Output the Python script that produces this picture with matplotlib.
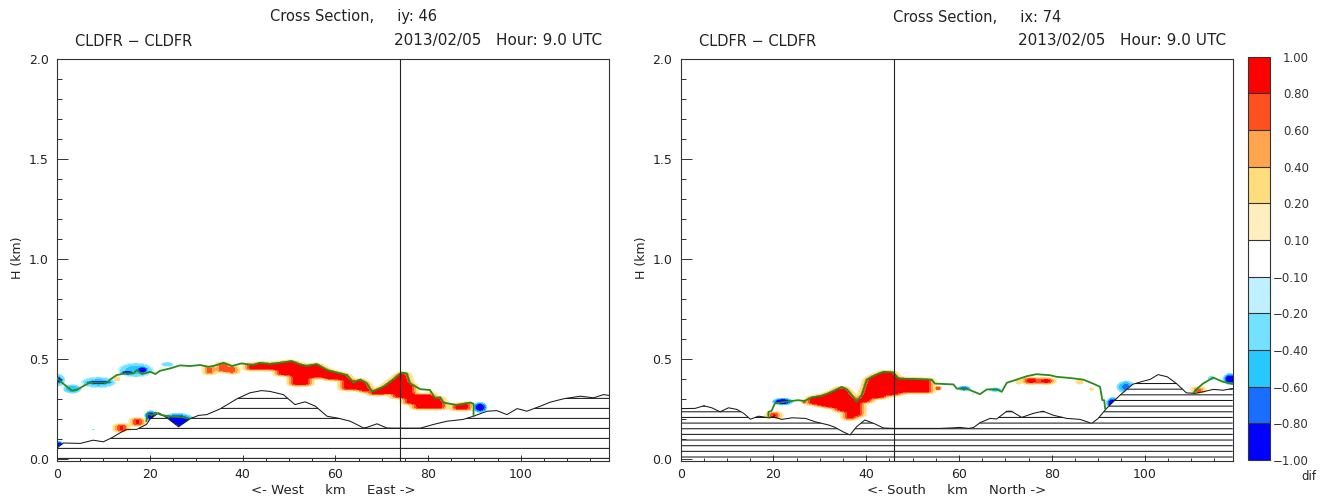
import numpy as np
import matplotlib
matplotlib.use("Agg")
import matplotlib.pyplot as plt
from matplotlib.colors import ListedColormap, BoundaryNorm
from matplotlib.cm import ScalarMappable
from matplotlib.ticker import MultipleLocator, FormatStrFormatter

plt.rcParams['font.family'] = ['DejaVu Sans']

# ---------------- colour scale of the difference field ----------------
dif_levels = [-1.0, -0.8, -0.6, -0.4, -0.2, -0.1, 0.1, 0.2, 0.4, 0.6, 0.8, 1.0]
dif_colors = ['#0000ff', '#196eff', '#28c8ff', '#73e1ff', '#bef0ff', '#ffffff',
              '#ffeec0', '#ffdc7d', '#ffa550', '#ff5020', '#ff0000']
dif_labels = ['\u22121.00', '\u22120.80', '\u22120.60', '\u22120.40', '\u22120.20', '\u22120.10',
              '0.10', '0.20', '0.40', '0.60', '0.80', '1.00']

x_ticks = [0, 20, 40, 60, 80, 100]
y_ticks = [0.0, 0.5, 1.0, 1.5, 2.0]

# ---------------- west-east section, iy = 46 ----------------
we_title = 'Cross Section,     iy: 46'
we_xlabel = '<- West     km     East ->'
we_marker = 74

we_terrain_x = [0, 1.4, 5, 7.8, 10, 11.8, 13.6, 15, 17.2, 19.3, 20, 21.9, 23.7, 26.2, 28.7,
                30.5, 32.3, 35.2, 38.8, 41.6, 44.1, 45.9, 48.8, 51.3, 53.5, 55.7, 58.2, 61,
                63.2, 66.1, 66.8, 69, 71.1, 72.5, 78.3, 81.2, 84.1, 87.6, 89.8, 92.7, 94.8,
                97, 99.2, 101.3, 104.2, 106.3, 109.2, 112.8, 115.7, 117.8, 119]
we_terrain_h = [0.055, 0.08, 0.078, 0.094, 0.086, 0.106, 0.131, 0.148, 0.148, 0.173, 0.198,
                0.231, 0.206, 0.161, 0.201, 0.218, 0.222, 0.251, 0.301, 0.331, 0.342, 0.338,
                0.322, 0.272, 0.286, 0.264, 0.214, 0.202, 0.189, 0.155, 0.158, 0.176, 0.155,
                0.154, 0.154, 0.173, 0.189, 0.198, 0.214, 0.239, 0.242, 0.222, 0.252, 0.239,
                0.264, 0.284, 0.301, 0.314, 0.306, 0.322, 0.318]

we_top_x = [0, 1.7, 3.2, 4.3, 5.7, 7.1, 10.7, 11.8, 12.9, 14.7, 16.5, 17.2, 18.3, 20.1, 21.2,
            22.2, 24.4, 26.5, 28.7, 30.9, 32.6, 33.7, 35.9, 37.7, 39.8, 42.3, 43.7, 45.9,
            48.1, 50.6, 52.1, 53.8, 56, 58.2, 60.3, 62.5, 63.9, 65.4, 66.8, 67.9, 70.4,
            72.5, 73.6, 74.3, 75.4, 76.1, 78.3, 80.4, 81.5, 82.6, 83.3, 86.2, 89.1, 89.8, 89.8]
we_top_h = [0.402, 0.37, 0.342, 0.346, 0.365, 0.382, 0.382, 0.403, 0.42, 0.428, 0.428, 0.445,
            0.425, 0.436, 0.425, 0.441, 0.453, 0.468, 0.465, 0.47, 0.461, 0.465, 0.481, 0.465,
            0.478, 0.47, 0.481, 0.475, 0.481, 0.49, 0.475, 0.465, 0.475, 0.445, 0.432, 0.42,
            0.382, 0.398, 0.378, 0.337, 0.362, 0.398, 0.42, 0.432, 0.428, 0.378, 0.349, 0.345,
            0.304, 0.309, 0.282, 0.27, 0.282, 0.276, 0.214]

we_low_top_x = [19.3, 19.5, 20.5, 21.2, 22.5, 24.5, 26.5, 28.5]
we_low_top_h = [0.19, 0.226, 0.22, 0.232, 0.22, 0.212, 0.21, 0.203]

# positive differences below the cloud top: (x start, x end, z bottom, z top, difference)
we_patches = [
    (13.0, 14.8, 0.14, 0.172, 1.0),
    (16.4, 18.4, 0.168, 0.2, 1.0),
    (32.1, 33.7, 0.426, 0.46, 1.0),
    (34.9, 36.5, 0.436, 0.5, 1.0), (37.2, 38.5, 0.428, 0.462, 1.0),
    (41.0, 47.5, 0.446, 0.5, 1.0),
    (47.5, 50.5, 0.418, 0.5, 1.0),
    (50.5, 54.5, 0.37, 0.5, 1.0),
    (54.5, 58.0, 0.406, 0.5, 1.0),
    (58.0, 61.5, 0.396, 0.5, 1.0),
    (61.5, 65.5, 0.346, 0.5, 1.0),
    (65.5, 67.5, 0.336, 0.5, 1.0),
    (67.5, 70.5, 0.321, 0.5, 1.0),
    (70.5, 72.5, 0.326, 0.5, 1.0),
    (72.5, 75.0, 0.306, 0.5, 1.0),
    (75.0, 77.0, 0.276, 0.5, 1.0),
    (77.0, 80.5, 0.251, 0.32, 1.0),
    (80.5, 83.5, 0.251, 0.5, 1.0),
    (85.3, 89.2, 0.246, 0.5, 1.0),
]
# rounded cells: (x centre, z centre, x radius, z radius, peak difference)
we_blobs = [
    (0.2, 0.395, 1.9, 0.038, -0.5), (0.2, 0.395, 1.3, 0.026, -0.99),
    (3.3, 0.35, 2.4, 0.028, -0.55),
    (9.0, 0.383, 4.4, 0.034, -0.45), (9.0, 0.383, 3.8, 0.016, -0.99),
    (12.9, 0.401, 0.7, 0.012, 0.35),
    (17.0, 0.445, 4.4, 0.044, -0.45),
    (15.2, 0.432, 2.0, 0.018, -0.9), (18.4, 0.446, 1.7, 0.024, -0.95),
    (23.8, 0.473, 1.8, 0.017, -0.35),
    (0.3, 0.068, 1.5, 0.028, -0.99),
    (7.8, 0.148, 0.6, 0.008, -0.3),
    (20.2, 0.216, 1.6, 0.032, -0.95),
    (26.0, 0.19, 4.2, 0.046, -0.99),
    (91.2, 0.258, 1.8, 0.032, -0.99),
]

# ---------------- south-north section, ix = 74 ----------------
sn_title = 'Cross Section,     ix: 74'
sn_xlabel = '<- South     km     North ->'
sn_marker = 46

sn_terrain_x = [0, 3.1, 5, 6.7, 8.5, 10.3, 12.1, 13.6, 15, 16.8, 19, 19.9, 21.8, 24, 26.9,
                29, 31.9, 33.3, 35, 36.5, 37.9, 39.7, 41.9, 43.7, 46, 50, 55.9, 58.8, 60.2,
                62, 63.1, 64.5, 66.7, 68.1, 70.3, 71.3, 73.5, 76, 78.1, 80.3, 83.2, 86.1,
                88.6, 90, 91.8, 94.7, 97.5, 99.7, 101.2, 102.9, 104.9, 106.9, 109, 110.8,
                112.6, 114.8, 116.9, 119]
sn_terrain_h = [0.252, 0.253, 0.266, 0.256, 0.236, 0.256, 0.248, 0.228, 0.199, 0.214, 0.206,
                0.211, 0.198, 0.206, 0.203, 0.186, 0.17, 0.158, 0.136, 0.12, 0.161, 0.195,
                0.175, 0.155, 0.153, 0.153, 0.153, 0.156, 0.158, 0.153, 0.157, 0.181, 0.203,
                0.2, 0.239, 0.239, 0.208, 0.228, 0.239, 0.219, 0.203, 0.198, 0.178, 0.203,
                0.253, 0.319, 0.374, 0.389, 0.398, 0.422, 0.411, 0.377, 0.331, 0.328, 0.336,
                0.348, 0.344, 0.352]

sn_top_x = [18.9, 18.9, 19.6, 20.3, 22.5, 25.3, 26.7, 28.2, 30.4, 31.8, 33.3, 34.7, 35.8,
            37.2, 37.9, 39.0, 40.1, 41.9, 43.7, 45.8, 46.9, 54.1, 54.8, 58.8, 59.5, 61.6,
            64.5, 66.0, 68.1, 69.2, 70.3, 72.4, 74.6, 76.7, 79.6, 81.0, 83.9, 86.8, 88.9,
            90.4, 90.9, 91.3, 91.5]
sn_top_h = [0.211, 0.235, 0.241, 0.278, 0.286, 0.294, 0.29, 0.308, 0.316, 0.328, 0.344,
            0.361, 0.348, 0.311, 0.286, 0.319, 0.397, 0.419, 0.436, 0.433, 0.402, 0.397,
            0.377, 0.373, 0.352, 0.352, 0.324, 0.348, 0.348, 0.336, 0.381, 0.397, 0.414,
            0.424, 0.419, 0.411, 0.405, 0.397, 0.377, 0.361, 0.294, 0.294, 0.253]

sn_top2_x = [110.6, 111.0, 112.6, 114.8, 116.9, 118.7, 119]
sn_top2_h = [0.331, 0.345, 0.377, 0.407, 0.386, 0.377, 0.375]

sn_patches = [
    (19.2, 21.2, 0.203, 0.232, 1.0),
    (27.3, 29.5, 0.275, 0.5, 1.0),
    (29.5, 31.5, 0.265, 0.5, 1.0),
    (31.5, 33.5, 0.257, 0.5, 1.0),
    (33.5, 35.3, 0.24, 0.5, 1.0),
    (35.3, 37.5, 0.2, 0.5, 1.0),
    (37.5, 39.0, 0.215, 0.5, 1.0),
    (39.0, 41.0, 0.285, 0.5, 1.0),
    (41.0, 44.0, 0.305, 0.5, 1.0),
    (44.0, 47.0, 0.32, 0.5, 1.0),
    (47.0, 54.0, 0.332, 0.5, 1.0),
    (74.1, 76.8, 0.379, 0.403, 1.0),
    (77.3, 80.2, 0.379, 0.401, 1.0),
    (110.9, 112.3, 0.329, 0.356, 1.0),
]
sn_blobs = [
    (22.0, 0.287, 2.6, 0.023, -0.99),
    (26.6, 0.285, 0.6, 0.008, 0.65),
    (55.5, 0.354, 0.7, 0.01, 0.75),
    (61.1, 0.353, 1.7, 0.018, -0.7),
    (63.0, 0.325, 0.5, 0.007, -0.3),
    (67.8, 0.347, 1.7, 0.015, -0.55),
    (72.9, 0.385, 0.8, 0.012, 0.35),
    (86.0, 0.385, 0.9, 0.012, 0.35),
    (88.6, 0.35, 0.5, 0.007, 0.3),
    (93.2, 0.28, 1.8, 0.034, -0.99),
    (96.0, 0.36, 2.4, 0.038, -0.6),
    (114.4, 0.405, 1.1, 0.016, -0.35),
    (118.4, 0.4, 1.8, 0.034, -0.99),
]

XMAX = 119.0
DX, DZ = 0.25, 0.0025


def tri_kernel(half):
    k = np.array([half + 1 - abs(i) for i in range(-half, half + 1)], float)
    return k / k.sum()


def build_field(patches, blobs, top_x, top_h, terr_x, terr_h):
    """Rasterise the difference cells onto a regular x-z grid."""
    xg = np.arange(0.0, XMAX + 1e-6, DX)
    zg = np.arange(0.0, 0.7 + 1e-6, DZ)
    X, Z = np.meshgrid(xg, zg)
    F = np.zeros_like(X)
    top = np.interp(xg, top_x, top_h, left=np.inf, right=np.inf)
    for x0, x1, z0, z1, v in patches:
        m = (X >= x0) & (X <= x1) & (Z >= z0) & (Z <= z1) & (Z <= top[None, :] + 0.002)
        F[m] = v
    kx, kz = tri_kernel(6), tri_kernel(4)
    F = np.apply_along_axis(lambda r: np.convolve(r, kx, mode='same'), 1, F)
    F = np.apply_along_axis(lambda c: np.convolve(c, kz, mode='same'), 0, F)
    for xc, zc, rx, rz, v in blobs:
        r2 = ((X - xc) / rx) ** 2 + ((Z - zc) / rz) ** 2
        b = v * np.clip(1.25 * (1.0 - r2), 0.0, 1.0)
        if v < 0:
            F = np.where((b < 0) & (b < F), b, F)
        else:
            F = np.where((b > 0) & (b > F), b, F)
    terr = np.interp(xg, terr_x, terr_h)
    F[Z < terr[None, :] - 0.003] = 0.0
    return X, Z, np.clip(F, -0.999, 0.999)


def draw_terrain(ax, tx, th, base, step, count):
    xx = np.linspace(0.0, XMAX, 4000)
    hh = np.interp(xx, tx, th)
    for i in range(count):
        lev = base + i * step
        ax.plot(xx, np.where(hh >= lev, lev, np.nan), color='#1a1a1a', lw=0.75,
                zorder=2, solid_capstyle='butt')
    ax.plot(tx, th, color='#1a1a1a', lw=0.75, zorder=3)


W, H = 1328.0, 496.0
fig = plt.figure(figsize=(W / 100, H / 100), dpi=100)

cmap = ListedColormap(dif_colors)
norm = BoundaryNorm(dif_levels, cmap.N)

ax_bottom = 1 - 461 / H
ax_height = 402 / H
panels = [
    dict(left=57.0, title=we_title, xlabel=we_xlabel, marker=we_marker,
         tx=we_terrain_x, th=we_terrain_h, cx=we_top_x, ch=we_top_h,
         extra=[(we_low_top_x, we_low_top_h)], patches=we_patches, blobs=we_blobs,
         hatch=(0.003, 0.05, 7)),
    dict(left=680.7, title=sn_title, xlabel=sn_xlabel, marker=sn_marker,
         tx=sn_terrain_x, th=sn_terrain_h, cx=sn_top_x, ch=sn_top_h,
         extra=[(sn_top2_x, sn_top2_h)], patches=sn_patches, blobs=sn_blobs,
         hatch=(0.01, 0.02826, 14)),
]

for p in panels:
    ax = fig.add_axes([p['left'] / W, ax_bottom, 552 / W, ax_height])
    X, Z, F = build_field(p['patches'], p['blobs'], p['cx'], p['ch'], p['tx'], p['th'])
    ax.contourf(X, Z, F, levels=dif_levels, colors=dif_colors, zorder=1)
    draw_terrain(ax, p['tx'], p['th'], *p['hatch'])
    ax.plot(p['cx'], p['ch'], color='#2b8a1c', lw=1.3, zorder=4)
    for ex, eh in p['extra']:
        ax.plot(ex, eh, color='#2b8a1c', lw=1.3, zorder=4)
    ax.axvline(p['marker'], color='#222222', lw=0.8, zorder=5)

    ax.set_xlim(0, XMAX)
    ax.set_ylim(-0.01, 2.0)
    ax.set_xticks(x_ticks)
    ax.xaxis.set_minor_locator(MultipleLocator(5))
    ax.set_yticks(y_ticks)
    ax.yaxis.set_major_formatter(FormatStrFormatter('%.1f'))
    ax.yaxis.set_minor_locator(MultipleLocator(0.1))
    ax.tick_params(axis='x', which='major', direction='in', length=4.5, width=0.7,
                   labelsize=9, pad=5, colors='#333333')
    ax.tick_params(axis='x', which='minor', direction='in', length=2.2, width=0.7,
                   colors='#333333')
    ax.tick_params(axis='y', which='major', direction='in', length=8, width=0.7,
                   labelsize=9, pad=6, colors='#333333')
    ax.tick_params(axis='y', which='minor', direction='in', length=3.8, width=0.7,
                   colors='#333333')
    for lbl in ax.get_xticklabels() + ax.get_yticklabels():
        lbl.set_color('#222222')
    for sp in ax.spines.values():
        sp.set_linewidth(0.8)
        sp.set_color('#333333')
    ax.set_xlabel(p['xlabel'], fontsize=9.5, labelpad=2, color='#222222')

    left = p['left']
    fig.text((left - 39) / W, 1 - 258 / H, 'H (km)', fontsize=9, rotation=90,
             ha='center', va='center', color='#222222')
    fig.text((left + 212.5) / W, 1 - 17 / H, p['title'], fontsize=10.5,
             ha='left', va='center', color='#222222')
    fig.text((left + 18) / W, 1 - 41 / H, 'CLDFR \u2212 CLDFR', fontsize=10.5,
             ha='left', va='center', color='#222222')
    fig.text((left + 545) / W, 1 - 41 / H, '2013/02/05   Hour: 9.0 UTC', fontsize=11,
             ha='right', va='center', color='#222222')

# colour bar
cax = fig.add_axes([1247.5 / W, 1 - 460 / H, 22.5 / W, 403.5 / H])
cb = fig.colorbar(ScalarMappable(norm=norm, cmap=cmap), cax=cax, spacing='uniform',
                  drawedges=True, ticks=dif_levels)
cb.outline.set_linewidth(0.8)
cb.outline.set_edgecolor('#333333')
cb.dividers.set_color('#333333')
cb.dividers.set_linewidth(0.8)
cb.ax.set_yticklabels(dif_labels)
cb.ax.tick_params(length=0, labelsize=8.5, pad=28, colors='#333333')
for lbl in cb.ax.get_yticklabels():
    lbl.set_ha('right')
fig.text(1308.5 / W, 1 - 476 / H, 'dif', fontsize=8.5, ha='center', va='center',
         color='#222222')

fig.savefig('out.png', dpi=100)
